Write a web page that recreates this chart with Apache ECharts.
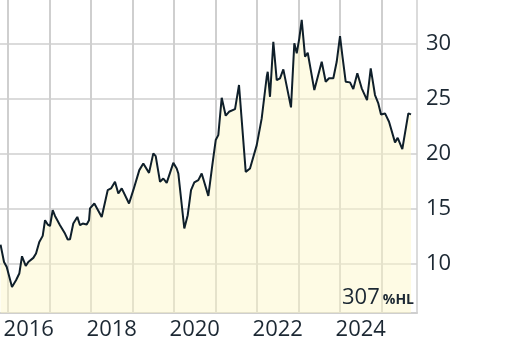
<!DOCTYPE html>
<html>
<head>
<meta charset="utf-8">
<script src="https://cdn.jsdelivr.net/npm/echarts@6/dist/echarts.min.js"></script>
<style>
html,body{margin:0;padding:0;background:#fff;}
#c{width:512px;height:346px;}
</style>
</head>
<body>
<div id="c"></div>
<script>
// decimal-year positions and values
const years = [2015.82,2015.904,2015.969,2016.096,2016.193,2016.272,2016.337,2016.427,2016.489,2016.610,
2016.675,2016.754,2016.836,2016.892,2016.957,2017.012,2017.077,2017.133,2017.253,2017.373,
2017.439,2017.494,2017.573,2017.670,2017.735,2017.800,2017.896,2017.952,2017.976,2018.080,
2018.258,2018.402,2018.482,2018.578,2018.658,2018.740,2018.916,2019.019,2019.164,2019.260,
2019.398,2019.501,2019.559,2019.663,2019.742,2019.824,2019.983,2020.065,2020.104,2020.248,
2020.330,2020.410,2020.489,2020.586,2020.667,2020.827,2020.923,2021.005,2021.067,2021.149,
2021.246,2021.325,2021.470,2021.566,2021.728,2021.831,2021.993,2022.113,2022.234,2022.258,
2022.313,2022.393,2022.475,2022.554,2022.634,2022.819,2022.899,2022.957,2023.019,2023.077,
2023.157,2023.222,2023.381,2023.559,2023.655,2023.735,2023.839,2023.920,2024.000,2024.055,
2024.137,2024.241,2024.320,2024.417,2024.523,2024.651,2024.740,2024.843,2024.923,2024.988,
2025.084,2025.181,2025.325,2025.390,2025.501,2025.646,2025.711];
const values = [11.76,10.18,9.73,7.91,8.52,9.13,10.70,9.82,10.18,10.55,
10.95,12.00,12.55,13.97,13.58,13.45,14.88,14.36,13.52,12.76,
12.22,12.25,13.67,14.27,13.52,13.67,13.58,13.97,15.04,15.49,
14.27,16.70,16.86,17.46,16.40,16.86,15.49,16.70,18.52,19.13,
18.27,20.04,19.79,17.46,17.76,17.36,19.18,18.67,18.22,13.22,
14.43,16.70,17.40,17.61,18.22,16.18,18.97,21.25,21.70,25.09,
23.46,23.82,24.06,26.25,18.36,18.67,20.79,23.22,27.00,27.45,
25.18,30.18,26.70,26.86,27.67,24.22,30.04,29.13,30.49,32.16,
28.82,29.18,25.79,28.36,26.55,26.86,26.86,28.36,30.70,28.97,
26.55,26.49,25.88,27.31,25.95,24.88,27.76,25.34,24.58,23.58,
23.67,22.91,21.04,21.45,20.43,23.67,23.58];
const yearGrid = [2016,2017,2018,2019,2020,2021,2022,2023,2024,2025];
const yearLabels = [2016,2018,2020,2022,2024];
const yTicks = [10,15,20,25,30];
const noteValue = '307';
const noteUnit = '%HL';

const X_MIN = 2015.807, X_MAX = 2025.855, Y_MIN = 5.546, Y_MAX = 33.97;
const chart = echarts.init(document.getElementById('c'), null, {renderer:'canvas'});
const txt = '#1c2833';
const gridCol = '#cfcfcf';
chart.setOption({
  animation:false,
  grid:{left:0, top:0, right:95, bottom:33},
  xAxis:{
    type:'value', min:X_MIN, max:X_MAX,
    axisLine:{show:true, lineStyle:{color:gridCol, width:2}},
    axisTick:{show:false},
    splitLine:{show:false},
    axisLabel:{customValues:yearLabels.map(y=>y+0.5), formatter:v=>String(Math.floor(v)),
      color:txt, fontFamily:'Open Sans', fontSize:22, margin:6}
  },
  yAxis:{
    type:'value', position:'right', min:Y_MIN, max:Y_MAX,
    axisLine:{show:true, lineStyle:{color:gridCol, width:1.5}},
    axisTick:{show:false, customValues:yTicks},
    splitLine:{show:true, lineStyle:{color:gridCol, width:1.5}},
    axisLabel:{customValues:yTicks, color:txt, fontFamily:'Open Sans', fontSize:22, margin:9}
  },
  series:[{
    type:'custom', z:1,
    data:yearGrid.map(y=>[y, Y_MIN]),
    encode:{x:0, y:1},
    renderItem:function(params, api){
      const v = api.value(0);
      const p1 = api.coord([v, Y_MIN]);
      const p2 = api.coord([v, Y_MAX]);
      const x = Math.round(p1[0]);
      return {type:'line', shape:{x1:x, y1:p1[1], x2:x, y2:p2[1]},
        style:{stroke:gridCol, lineWidth:2}};
    }
  },{
    type:'line', data:years.map((y,i)=>[y, values[i]]), z:3,
    showSymbol:false, symbol:'none',
    lineStyle:{color:'#0f1f2a', width:2},
    areaStyle:{color:'rgba(252,247,200,0.7)', origin:'start'}
  }]
});

// year gridlines positioned through the x axis scale
const gElems = [];
yearGrid.forEach(function(y){
  const p1 = chart.convertToPixel({xAxisIndex:0, yAxisIndex:0}, [y, Y_MIN]);
  const p2 = chart.convertToPixel({xAxisIndex:0, yAxisIndex:0}, [y, Y_MAX]);
  if (p1 && p2) {
    const x = Math.round(p1[0]);
    gElems.push({type:'line', z:1, silent:false,
      shape:{x1:x, y1:p1[1], x2:x, y2:p2[1]},
      style:{stroke:gridCol, lineWidth:2}});
  }
});
gElems.push({type:'text', right:98, bottom:37, z:100,
  style:{text:'{a|'+noteValue+'}{b|'+noteUnit+'}', fill:txt,
    rich:{a:{fontFamily:'Open Sans', fontSize:22, fill:txt, color:txt},
          b:{fontFamily:'Open Sans', fontSize:14, fontWeight:'bold', fill:txt, color:txt, padding:[4,0,0,3]}}}});
chart.setOption({graphic:gElems});
</script>
</body>
</html>
